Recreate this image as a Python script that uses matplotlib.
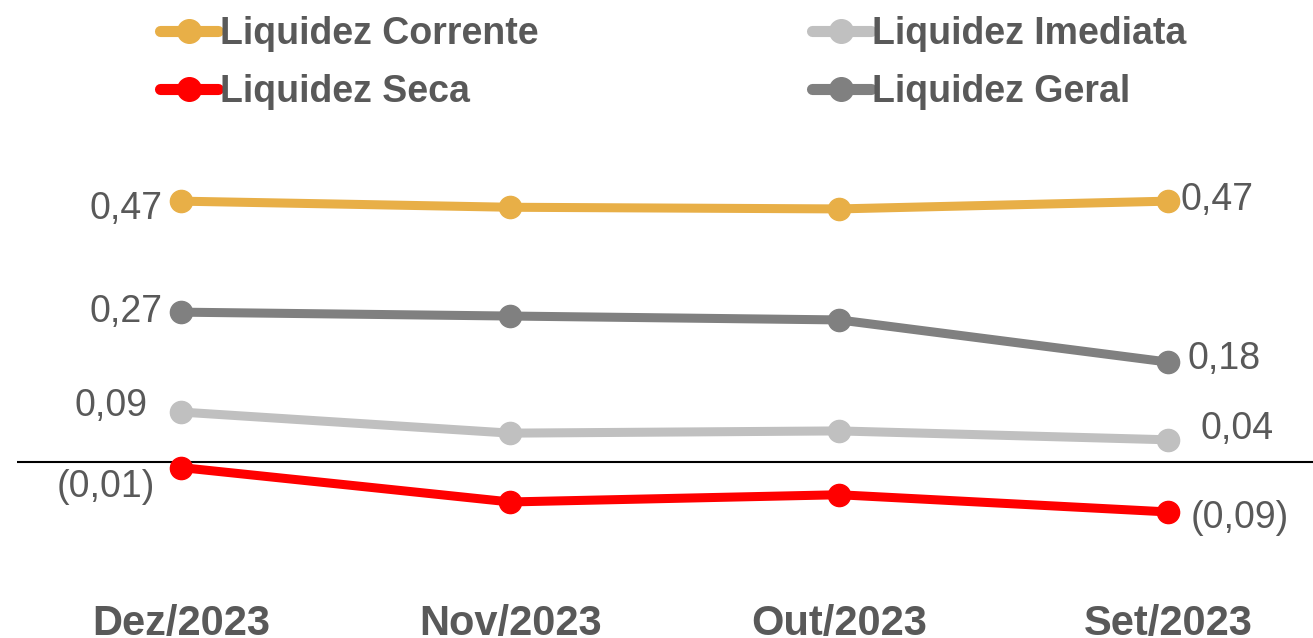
import matplotlib
matplotlib.use("Agg")
import matplotlib.pyplot as plt

plt.rcParams['font.family'] = ['Liberation Sans', 'DejaVu Sans']

# data
months = ['Dez/2023', 'Nov/2023', 'Out/2023', 'Set/2023']
corrente = [0.47, 0.459, 0.456, 0.47]
imediata = [0.09, 0.052, 0.056, 0.04]
seca = [-0.01, -0.072, -0.059, -0.09]
geral = [0.27, 0.263, 0.256, 0.18]

txt = '#595959'

def fmt(v):
    s = f"{abs(v):.2f}".replace('.', ',')
    return f"({s})" if v < 0 else s

W, H = 1313, 638
fig = plt.figure(figsize=(W / 100, H / 100), dpi=100)

# axes placed in pixels: x index 0 at 181px, step 329px; y zero at 462px, 555 px per unit
x0, x1 = 16.5, 1313
y_top, y_bot = 462 - 0.55 * 555, 462 + 0.15 * 555
ax = fig.add_axes([x0 / W, (H - y_bot) / H, (x1 - x0) / W, (y_bot - y_top) / H])
ax.set_xlim(-0.5, 3.44)
ax.set_ylim(-0.15, 0.55)

x = list(range(len(months)))
series = [
    ('Liquidez Corrente', corrente, '#E8AF47'),
    ('Liquidez Seca', seca, '#FF0000'),
    ('Liquidez Imediata', imediata, '#C0C0C0'),
    ('Liquidez Geral', geral, '#808080'),
]

ax.axhline(0, color='black', lw=1.5, zorder=1)

handles = []
for name, vals, col in series:
    h, = ax.plot(x, vals, color=col, lw=6.5, marker='o', markersize=16,
                 solid_capstyle='round', label=name, zorder=3, clip_on=False)
    handles.append(h)

# label offsets (points): (left dx, left dy, right dx, right dy)
offs = {
    'Liquidez Corrente': (-13, -6, 9, 1),
    'Liquidez Seca': (-19, -14, 16, -4),
    'Liquidez Imediata': (-24, 4, 23, 8),
    'Liquidez Geral': (-13, 0, 14, 2),
}
for name, vals, col in series:
    ldx, ldy, rdx, rdy = offs[name]
    ax.annotate(fmt(vals[0]), (x[0], vals[0]), xytext=(ldx, ldy),
                textcoords='offset points', ha='right', va='center',
                fontsize=27, color=txt)
    ax.annotate(fmt(vals[-1]), (x[-1], vals[-1]), xytext=(rdx, rdy),
                textcoords='offset points', ha='left', va='center',
                fontsize=27, color=txt)

for s in ax.spines.values():
    s.set_visible(False)
ax.set_yticks([])
ax.set_xticks(x)
ax.set_xticklabels(months, fontsize=30, fontweight='bold', color=txt)
ax.tick_params(axis='x', length=0, pad=42)

leg = fig.legend(handles=handles, loc='upper left',
                 bbox_to_anchor=(160 / W, 1 - 16 / H), ncol=2, frameon=False,
                 fontsize=27, handlelength=1.55, handletextpad=0.05,
                 columnspacing=7.3, labelspacing=0.6, borderpad=0,
                 borderaxespad=0)
for t in leg.get_texts():
    t.set_color(txt)
    t.set_fontweight('bold')
for lh in leg.legend_handles:
    lh.set_linewidth(8)
    lh.set_markersize(17)

fig.savefig('out.png', dpi=100)
